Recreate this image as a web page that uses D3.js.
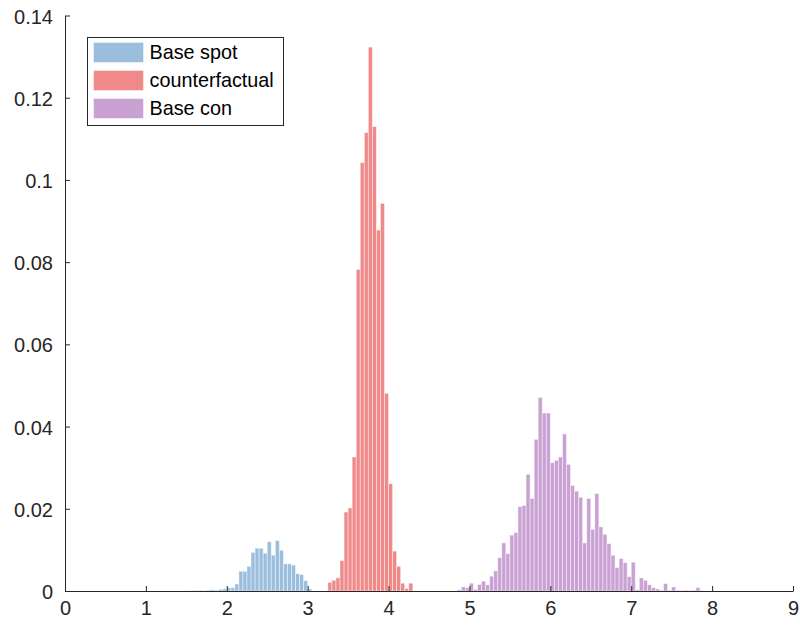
<!DOCTYPE html>
<html>
<head>
<meta charset="utf-8">
<script src="https://cdn.jsdelivr.net/npm/d3@7"></script>
<style>
  html, body { margin: 0; padding: 0; background: #fff; }
  svg { display: block; font-family: "Liberation Sans", Arial, Helvetica, sans-serif; }
</style>
</head>
<body>
<svg id="chart" width="800" height="626"></svg>
<script>
// Histogram bins: each series lists bar heights for consecutive 0.05-wide bins
const binWidth = 0.05;

const spotStart = 1.50;
const spotValues = [
  0.0001, 0.0001, 0.0001, 0.0002, 0.0001, 0.0002, 0.0003, 0.0002, 0.0004, 0.0005,
  0.0008, 0.0008, 0.0017, 0.0048, 0.0048, 0.0060, 0.0094, 0.0104, 0.0104, 0.0092,
  0.0120, 0.0087, 0.0123, 0.0099, 0.0066, 0.0066, 0.0063, 0.0042, 0.0040, 0.0025,
  0.0005
];

const cfStart = 3.25;
const cfValues = [
  0.0021, 0.0026, 0.0032, 0.0074, 0.0192, 0.0202, 0.0326, 0.0782, 0.1042, 0.1115,
  0.1323, 0.1130, 0.0878, 0.0943, 0.0481, 0.0261, 0.0097, 0.0060, 0.0019, 0.0006,
  0.0019
];

const conStart = 4.85;
const conValues = [
  0.0003, 0.0010, 0.0008, 0.0019, 0.0004, 0.0016, 0.0024, 0.0015, 0.0036, 0.0049,
  0.0081, 0.0117, 0.0091, 0.0136, 0.0142, 0.0205, 0.0208, 0.0284, 0.0225, 0.0369,
  0.0471, 0.0433, 0.0433, 0.0312, 0.0318, 0.0326, 0.0382, 0.0308, 0.0257, 0.0243,
  0.0228, 0.0117, 0.0225, 0.0150, 0.0237, 0.0156, 0.0138, 0.0115, 0.0087, 0.0057,
  0.0079, 0.0069, 0.0035, 0.0070, 0.0003, 0.0032, 0.0026, 0.0015, 0.0008, 0.0005,
  0.0002, 0.0018, 0.0002, 0.0010, 0.0002, 0.0001, 0.0002, 0.0001, 0.0002, 0.0008,
  0.0001
];

const seriesNames = ["Base spot", "counterfactual", "Base con"];
const seriesColors = ["#9abedc", "#f08a8a", "#c9a2d3"];

const xTicks = [0, 1, 2, 3, 4, 5, 6, 7, 8, 9];
const yTicks = [0, 0.02, 0.04, 0.06, 0.08, 0.1, 0.12, 0.14];

const series = [
  { name: seriesNames[0], color: seriesColors[0], start: spotStart, values: spotValues },
  { name: seriesNames[1], color: seriesColors[1], start: cfStart, values: cfValues },
  { name: seriesNames[2], color: seriesColors[2], start: conStart, values: conValues }
];

const svg = d3.select("#chart");
const axisColor = "#262626";

const x = d3.scaleLinear().domain([0, 9]).range([65, 793]);
const y = d3.scaleLinear().domain([0, 0.14]).range([591, 15.5]);

// bars
series.forEach(s => {
  const bins = s.values.map((v, i) => ({ x0: s.start + i * binWidth, v }));
  svg.append("g")
    .selectAll("rect")
    .data(bins)
    .join("rect")
    .attr("x", d => x(d.x0))
    .attr("width", d => x(d.x0 + binWidth) - x(d.x0))
    .attr("y", d => y(d.v))
    .attr("height", d => y(0) - y(d.v))
    .attr("fill", s.color)
    .attr("stroke", "#ffffff")
    .attr("stroke-opacity", 0.55)
    .attr("stroke-width", 0.8);
});

// axes with inward ticks
const xAxis = d3.axisBottom(x).tickValues(xTicks).tickFormat(d3.format("d"))
  .tickSize(-5).tickSizeOuter(0).tickPadding(10);
const yAxis = d3.axisLeft(y).tickValues(yTicks).tickFormat(d => d === 0 ? "0" : d3.format(".2~f")(d))
  .tickSize(-5).tickSizeOuter(0).tickPadding(12);

const gx = svg.append("g").attr("transform", `translate(0,${y(0)})`).call(xAxis);
const gy = svg.append("g").attr("transform", `translate(${x(0)},0)`).call(yAxis);

[gx, gy].forEach(g => {
  g.select(".domain").attr("stroke", axisColor).attr("stroke-width", 1);
  g.selectAll(".tick line").attr("stroke", axisColor).attr("stroke-width", 1);
  g.selectAll(".tick text").attr("fill", axisColor).attr("font-size", 20)
    .attr("font-family", "'Liberation Sans', Arial, Helvetica, sans-serif");
});
gy.selectAll(".tick text").attr("dy", "0.38em");

// legend
const legend = svg.append("g").attr("transform", "translate(87.5,37.5)");
legend.append("rect")
  .attr("width", 196).attr("height", 88)
  .attr("fill", "#fff").attr("stroke", axisColor).attr("stroke-width", 1);

const rowY = d3.scalePoint().domain(seriesNames).range([15, 71]);
const rows = legend.selectAll("g.row").data(series).join("g")
  .attr("class", "row")
  .attr("transform", d => `translate(0,${rowY(d.name)})`);
rows.append("rect")
  .attr("x", 6).attr("y", -10).attr("width", 50).attr("height", 20)
  .attr("fill", d => d.color)
  .attr("stroke", "#ffffff").attr("stroke-opacity", 0.55).attr("stroke-width", 0.8);
rows.append("text")
  .attr("x", 62).attr("y", 0).attr("dy", "0.35em")
  .attr("font-size", 19.8).attr("fill", "#000")
  .text(d => d.name);
</script>
</body>
</html>
